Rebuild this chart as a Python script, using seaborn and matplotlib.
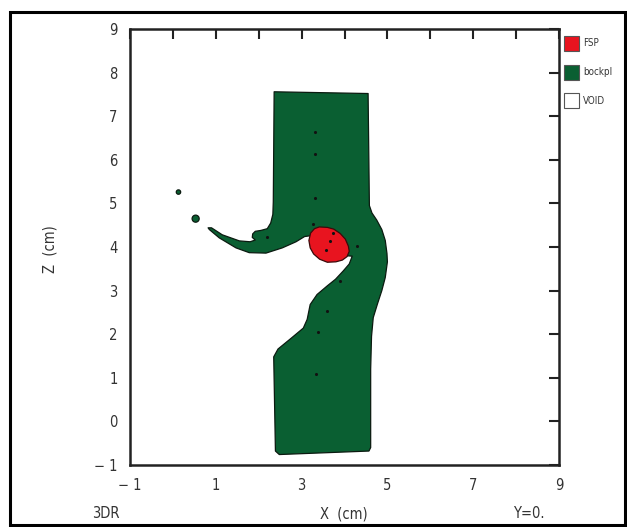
import matplotlib
matplotlib.use("Agg")
import matplotlib.pyplot as plt
from matplotlib.patches import Rectangle
import numpy as np
import pandas as pd
import seaborn as sns

# ---- material outlines in the Y=0 plane (x, z in cm) ----
backpl_x = [2.36, 4.55, 4.58, 4.64, 4.75, 4.87, 4.95, 4.99, 5.00, 4.95, 4.87, 4.77,
            4.67, 4.63, 4.61, 4.61, 4.57, 2.48, 2.39, 2.35, 2.45, 2.76, 3.04, 3.13,
            3.20, 3.36, 3.60, 3.79, 3.97, 4.11, 4.18, 4.03, 3.60, 3.30, 3.22, 3.07,
            2.87, 2.55, 2.17, 1.78, 1.47, 1.08, 0.85, 0.82, 0.90, 1.15, 1.55, 1.80,
            1.92, 1.85, 1.86, 1.92, 2.05, 2.20, 2.28, 2.33, 2.34]
backpl_z = [7.56, 7.52, 4.95, 4.78, 4.62, 4.40, 4.15, 3.85, 3.66, 3.30, 3.00, 2.70,
            2.38, 1.95, 1.20, -0.60, -0.68, -0.76, -0.68, 1.48, 1.66, 1.91, 2.14, 2.34,
            2.68, 2.91, 3.11, 3.26, 3.45, 3.61, 3.79, 3.80, 3.80, 4.05, 4.26, 4.24,
            4.12, 3.98, 3.86, 3.87, 3.98, 4.21, 4.40, 4.44, 4.44, 4.28, 4.14, 4.12,
            4.16, 4.22, 4.30, 4.36, 4.38, 4.42, 4.55, 4.75, 5.03]

fsp_x = [3.41, 3.60, 3.75, 3.90, 4.02, 4.09, 4.11, 4.06, 3.95, 3.80, 3.60, 3.42,
         3.28, 3.20, 3.17, 3.21, 3.30]
fsp_z = [4.46, 4.45, 4.41, 4.31, 4.18, 4.02, 3.90, 3.78, 3.70, 3.66, 3.65, 3.72,
         3.84, 3.98, 4.15, 4.32, 4.42]

# detached fragments
frag_x = [0.13, 0.53]
frag_z = [5.26, 4.65]

# tracer stations
tracer_x = [3.32, 3.32, 3.32, 3.27, 3.74, 3.66, 3.58, 4.30, 3.90, 3.60, 3.39, 3.34, 2.20]
tracer_z = [6.63, 6.13, 5.12, 4.53, 4.32, 4.13, 3.92, 4.02, 3.22, 2.54, 2.05, 1.09, 4.24]

x_ticks = list(range(-1, 10))
x_labels = ["\u2212 1" if v == -1 else (str(v) if v % 2 == 1 else "") for v in x_ticks]
z_ticks = list(range(-1, 10))
z_labels = ["\u2212 1" if v == -1 else str(v) for v in z_ticks]

materials = ["FSP", "bockpl", "VOID"]
mat_colors = ["#e8141f", "#0a5f32", "#ffffff"]

sns.set_theme(style="white")
plt.rcParams["font.family"] = ["DejaVu Sans"]
plt.rcParams["font.stretch"] = "condensed"

W, H = 627, 527
fig = plt.figure(figsize=(W / 100, H / 100), dpi=100)
fig.patch.set_facecolor("white")


def fx(px):
    return px / W


def fy(py):
    return 1 - py / H


ax = fig.add_axes([fx(130), fy(465), fx(559) - fx(130), fy(29) - fy(465)])
ax.set_facecolor("white")

ax.fill(backpl_x, backpl_z, facecolor=mat_colors[1], edgecolor="#0b1a10",
        linewidth=0.9, joinstyle="round", zorder=2)
ax.fill(fsp_x, fsp_z, facecolor=mat_colors[0], edgecolor="#3a0a0a",
        linewidth=0.9, joinstyle="round", zorder=3)

frag = pd.DataFrame({"x": frag_x, "z": frag_z, "size": [10, 26]})
sns.scatterplot(data=frag, x="x", y="z", size="size", sizes=(10, 26),
                color=mat_colors[1], edgecolor="#0b1a10", linewidth=0.9,
                legend=False, ax=ax, zorder=4)

trc = pd.DataFrame({"x": tracer_x, "z": tracer_z})
sns.scatterplot(data=trc, x="x", y="z", color="#111111", s=5, linewidth=0,
                legend=False, ax=ax, zorder=5)

ax.set_xlim(-1, 9)
ax.set_ylim(-1, 9)
ax.set_xticks(x_ticks)
ax.set_xticklabels(x_labels)
ax.set_yticks(z_ticks)
ax.set_yticklabels(z_labels)
ax.set_xlabel("")
ax.set_ylabel("")
ax.tick_params(direction="in", length=7, width=1.5, color="#222222",
               top=True, right=True, labelsize=10.5, labelcolor="#333333")
ax.tick_params(axis="x", pad=9)
ax.tick_params(axis="y", pad=9)
for sp in ax.spines.values():
    sp.set_visible(True)
    sp.set_linewidth(1.8)
    sp.set_color("#222222")

txt = dict(color="#333333", fontsize=10.5)
fig.text(fx(50), fy(249), "Z  (cm)", rotation=90, ha="center", va="center", **txt)
fig.text(fx(344), fy(514), "X  (cm)", ha="center", va="center", **txt)
fig.text(fx(106), fy(514), "3DR", ha="center", va="center", **txt)
fig.text(fx(529), fy(514), "Y=0.", ha="center", va="center", **txt)

# material key
for i, (name, col) in enumerate(zip(materials, mat_colors)):
    cy = 43 + 29 * i
    fig.add_artist(Rectangle((fx(564), fy(cy + 7.5)), fx(15), fy(0) - fy(15),
                             facecolor=col, edgecolor="#555555", linewidth=0.8,
                             transform=fig.transFigure))
    fig.text(fx(583), fy(cy), name, ha="left", va="center", color="#333333",
             fontsize=7)

# outer frame
fig.add_artist(Rectangle((fx(10), fy(525)), fx(625) - fx(10), fy(12) - fy(525),
                         fill=False, edgecolor="black", linewidth=2.2,
                         transform=fig.transFigure))

fig.savefig("out.png", dpi=100, facecolor="white")
